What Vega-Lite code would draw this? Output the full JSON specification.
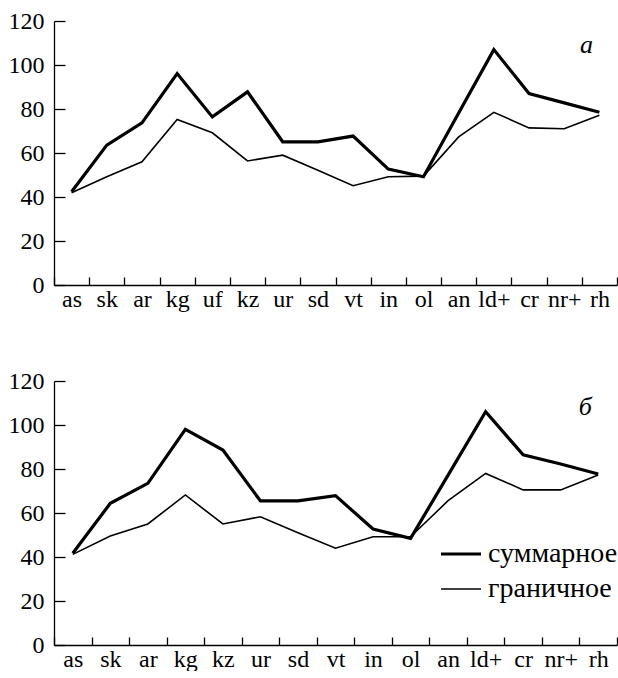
{
  "$schema": "https://vega.github.io/schema/vega-lite/v6.json",
  "padding": {"left": 8, "top": 9, "right": 0, "bottom": 0},
  "config": {
    "font": "Liberation Serif",
    "view": {"stroke": null},
    "style": {"guide-label": {"font": "Liberation Serif"}},
    "axis": {
      "domainColor": "black", "tickColor": "black", "labelColor": "black",
      "labelFont": "Liberation Serif", "labelFontSize": 24,
      "domainWidth": 1.3, "tickWidth": 1.3, "grid": false, "title": null
    },
    "axisY": {"tickSize": -11, "labelPadding": 21, "values": [0, 20, 40, 60, 80, 100, 120]},
    "axisX": {"tickSize": -8, "labelPadding": 10, "labelAngle": 0, "tickBand": "extent"}
  },
  "datasets": {
    "a": [
      {"i": 0, "cat": "as", "series": "суммарное", "value": 42.4},
      {"i": 1, "cat": "sk", "series": "суммарное", "value": 63.6},
      {"i": 2, "cat": "ar", "series": "суммарное", "value": 73.7},
      {"i": 3, "cat": "kg", "series": "суммарное", "value": 96.1},
      {"i": 4, "cat": "uf", "series": "суммарное", "value": 76.4},
      {"i": 5, "cat": "kz", "series": "суммарное", "value": 87.8},
      {"i": 6, "cat": "ur", "series": "суммарное", "value": 65.1},
      {"i": 7, "cat": "sd", "series": "суммарное", "value": 65.1},
      {"i": 8, "cat": "vt", "series": "суммарное", "value": 67.7},
      {"i": 9, "cat": "in", "series": "суммарное", "value": 52.7},
      {"i": 10, "cat": "ol", "series": "суммарное", "value": 49.2},
      {"i": 11, "cat": "an", "series": "суммарное", "value": 78.2},
      {"i": 12, "cat": "ld+", "series": "суммарное", "value": 107.0},
      {"i": 13, "cat": "cr", "series": "суммарное", "value": 87.0},
      {"i": 14, "cat": "nr+", "series": "суммарное", "value": 82.8},
      {"i": 15, "cat": "rh", "series": "суммарное", "value": 78.5},
      {"i": 0, "cat": "as", "series": "граничное", "value": 41.9},
      {"i": 1, "cat": "sk", "series": "граничное", "value": 49.2},
      {"i": 2, "cat": "ar", "series": "граничное", "value": 56.0},
      {"i": 3, "cat": "kg", "series": "граничное", "value": 75.2},
      {"i": 4, "cat": "uf", "series": "граничное", "value": 69.2},
      {"i": 5, "cat": "kz", "series": "граничное", "value": 56.4},
      {"i": 6, "cat": "ur", "series": "граничное", "value": 59.0},
      {"i": 7, "cat": "sd", "series": "граничное", "value": 52.2},
      {"i": 8, "cat": "vt", "series": "граничное", "value": 45.1},
      {"i": 9, "cat": "in", "series": "граничное", "value": 49.2},
      {"i": 10, "cat": "ol", "series": "граничное", "value": 49.5},
      {"i": 11, "cat": "an", "series": "граничное", "value": 67.3},
      {"i": 12, "cat": "ld+", "series": "граничное", "value": 78.5},
      {"i": 13, "cat": "cr", "series": "граничное", "value": 71.4},
      {"i": 14, "cat": "nr+", "series": "граничное", "value": 71.0},
      {"i": 15, "cat": "rh", "series": "граничное", "value": 77.2}
    ],
    "b": [
      {"i": 0, "cat": "as", "series": "суммарное", "value": 41.7},
      {"i": 1, "cat": "sk", "series": "суммарное", "value": 64.4},
      {"i": 2, "cat": "ar", "series": "суммарное", "value": 73.5},
      {"i": 3, "cat": "kg", "series": "суммарное", "value": 98.0},
      {"i": 4, "cat": "kz", "series": "суммарное", "value": 88.6},
      {"i": 5, "cat": "ur", "series": "суммарное", "value": 65.5},
      {"i": 6, "cat": "sd", "series": "суммарное", "value": 65.5},
      {"i": 7, "cat": "vt", "series": "суммарное", "value": 67.9},
      {"i": 8, "cat": "in", "series": "суммарное", "value": 52.7},
      {"i": 9, "cat": "ol", "series": "суммарное", "value": 48.5},
      {"i": 10, "cat": "an", "series": "суммарное", "value": 77.2},
      {"i": 11, "cat": "ld+", "series": "суммарное", "value": 106.0},
      {"i": 12, "cat": "cr", "series": "суммарное", "value": 86.4},
      {"i": 13, "cat": "nr+", "series": "суммарное", "value": 82.3},
      {"i": 14, "cat": "rh", "series": "суммарное", "value": 77.7},
      {"i": 0, "cat": "as", "series": "граничное", "value": 41.2},
      {"i": 1, "cat": "sk", "series": "граничное", "value": 49.5},
      {"i": 2, "cat": "ar", "series": "граничное", "value": 55.0},
      {"i": 3, "cat": "kg", "series": "граничное", "value": 68.2},
      {"i": 4, "cat": "kz", "series": "граничное", "value": 55.0},
      {"i": 5, "cat": "ur", "series": "граничное", "value": 58.3},
      {"i": 6, "cat": "sd", "series": "граничное", "value": 51.0},
      {"i": 7, "cat": "vt", "series": "граничное", "value": 44.0},
      {"i": 8, "cat": "in", "series": "граничное", "value": 49.2},
      {"i": 9, "cat": "ol", "series": "граничное", "value": 49.2},
      {"i": 10, "cat": "an", "series": "граничное", "value": 65.6},
      {"i": 11, "cat": "ld+", "series": "граничное", "value": 78.0},
      {"i": 12, "cat": "cr", "series": "граничное", "value": 70.5},
      {"i": 13, "cat": "nr+", "series": "граничное", "value": 70.5},
      {"i": 14, "cat": "rh", "series": "граничное", "value": 77.3}
    ]
  },
  "spacing": 58,
  "resolve": {"legend": {"strokeWidth": "independent"}, "scale": {"x": "independent", "strokeWidth": "independent"}},
  "vconcat": [
    {
      "width": 563, "height": 264,
      "layer": [
        {
          "data": {"name": "a"},
          "mark": {"type": "line", "color": "black", "strokeJoin": "miter"},
          "encoding": {
            "x": {"field": "cat", "type": "nominal", "bandPosition": 0.5,
                  "scale": {"type": "band", "paddingInner": 0, "paddingOuter": 0,
                            "domain": ["as","sk","ar","kg","uf","kz","ur","sd","vt","in","ol","an","ld+","cr","nr+","rh"]}},
            "y": {"field": "value", "type": "quantitative", "scale": {"domain": [0, 120], "nice": false}},
            "order": {"field": "i", "type": "quantitative"},
            "strokeWidth": {"field": "series", "type": "nominal",
                            "scale": {"domain": ["суммарное", "граничное"], "range": [3.2, 1.6]}, "legend": null}
          }
        },
        {
          "data": {"values": [{"t": "а", "cat": "rh", "v": 109}]},
          "mark": {"type": "text", "fontStyle": "italic", "fontSize": 26, "dx": -13, "color": "black"},
          "encoding": {
            "x": {"field": "cat", "type": "nominal"},
            "y": {"field": "v", "type": "quantitative"},
            "text": {"field": "t"}
          }
        }
      ]
    },
    {
      "width": 563, "height": 264,
      "layer": [
        {
          "data": {"name": "b"},
          "mark": {"type": "line", "color": "black", "strokeJoin": "miter"},
          "encoding": {
            "x": {"field": "cat", "type": "nominal", "bandPosition": 0.5,
                  "scale": {"type": "band", "paddingInner": 0, "paddingOuter": 0,
                            "domain": ["as","sk","ar","kg","kz","ur","sd","vt","in","ol","an","ld+","cr","nr+","rh"]}},
            "y": {"field": "value", "type": "quantitative", "scale": {"domain": [0, 120], "nice": false}},
            "order": {"field": "i", "type": "quantitative"},
            "strokeWidth": {"field": "series", "type": "nominal",
                            "scale": {"domain": ["суммарное", "граничное"], "range": [3.2, 1.6]},
                            "legend": {"orient": "none", "legendX": 385, "legendY": 151, "title": null,
                                       "symbolType": "stroke", "symbolStrokeColor": "black", "symbolSize": 1600,
                                       "labelFontSize": 28, "labelColor": "black", "labelFont": "Liberation Serif",
                                       "labelOffset": 5, "rowPadding": -22}}
          }
        },
        {
          "data": {"values": [{"t": "б", "cat": "rh", "v": 108}]},
          "mark": {"type": "text", "fontStyle": "italic", "fontSize": 26, "dx": -13, "color": "black"},
          "encoding": {
            "x": {"field": "cat", "type": "nominal"},
            "y": {"field": "v", "type": "quantitative"},
            "text": {"field": "t"}
          }
        }
      ]
    }
  ]
}
